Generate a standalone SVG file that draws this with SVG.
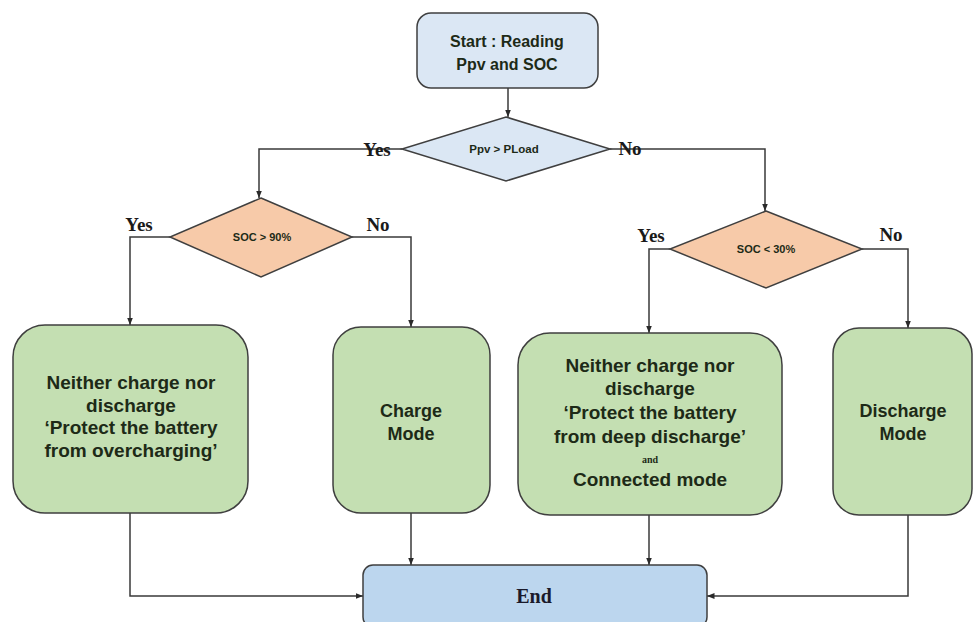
<svg xmlns="http://www.w3.org/2000/svg" width="973" height="622" viewBox="0 0 973 622">
<style>
.box{stroke:#3f3f3f;stroke-width:1.5}
.blue{fill:#dbe7f4}
.endc{fill:#bcd6ee}
.peach{fill:#f7caa9}
.green{fill:#c4dfb2}
.t{font-family:"Liberation Sans",Arial,sans-serif;font-weight:bold;fill:#1d2a17;text-anchor:middle}
.lb{font-family:"Liberation Serif",serif;font-weight:bold;font-size:19px;fill:#1a1a1a;text-anchor:middle}
.c{fill:none;stroke:#3a3a3a;stroke-width:1.5}
</style>
<defs>
<marker id="ah" viewBox="0 0 10 10" refX="10" refY="5" markerWidth="5" markerHeight="5" orient="auto">
<path d="M0,1 L10,5 L0,9 z" fill="#2a2a2a"/>
</marker>
</defs>
<rect width="973" height="622" fill="#ffffff"/>
<g id="connectors">
<path class="c" d="M508,88 V117" marker-end="url(#ah)"/>
<path class="c" d="M402,149 H259 V198" marker-end="url(#ah)"/>
<path class="c" d="M610,149 H765 V211" marker-end="url(#ah)"/>
<path class="c" d="M170,237 H130 V325" marker-end="url(#ah)"/>
<path class="c" d="M352,237 H411 V327" marker-end="url(#ah)"/>
<path class="c" d="M670,249 H649 V333" marker-end="url(#ah)"/>
<path class="c" d="M862,249 H908 V328" marker-end="url(#ah)"/>
<path class="c" d="M130,513 V596 H363" marker-end="url(#ah)"/>
<path class="c" d="M411,513 V565" marker-end="url(#ah)"/>
<path class="c" d="M649,515 V565" marker-end="url(#ah)"/>
<path class="c" d="M908,515 V596 H707" marker-end="url(#ah)"/>
<text class="lb" x="377" y="156">Yes</text>
<text class="lb" x="630" y="155">No</text>
<text class="lb" x="139" y="231">Yes</text>
<text class="lb" x="378" y="231">No</text>
<text class="lb" x="651" y="242">Yes</text>
<text class="lb" x="891" y="241">No</text>
</g>
<g id="start">
<rect class="box blue" x="417" y="13" width="181" height="75" rx="14"/>
<text class="t" x="507" y="47" font-size="16">Start : Reading</text>
<text class="t" x="507" y="70" font-size="16">Ppv and SOC</text>
</g>
<g id="d1">
<polygon class="box blue" points="506,117 610,149 506,181 402,149"/>
<text class="t" x="504" y="153" font-size="11.5">Ppv &gt; PLoad</text>
</g>
<g id="d2">
<polygon class="box peach" points="261,198 352,237 261,277 170,237"/>
<text class="t" x="262" y="241" font-size="11">SOC &gt; 90%</text>
</g>
<g id="d3">
<polygon class="box peach" points="766,211 862,249 766,288 670,249"/>
<text class="t" x="766" y="253" font-size="11">SOC &lt; 30%</text>
</g>
<g id="b1">
<rect class="box green" x="13" y="325" width="235" height="188" rx="32"/>
<text class="t" x="131" y="389" font-size="19">Neither charge nor</text>
<text class="t" x="131" y="411.5" font-size="19">discharge</text>
<text class="t" x="131" y="434" font-size="19">‘Protect the battery</text>
<text class="t" x="131" y="456.5" font-size="19">from overcharging’</text>
</g>
<g id="b2">
<rect class="box green" x="333" y="327" width="157" height="186" rx="28"/>
<text class="t" x="411" y="417" font-size="18">Charge</text>
<text class="t" x="411" y="440" font-size="18">Mode</text>
</g>
<g id="b3">
<rect class="box green" x="518" y="333" width="264" height="182" rx="32"/>
<text class="t" x="650" y="372" font-size="19">Neither charge nor</text>
<text class="t" x="650" y="394.5" font-size="19">discharge</text>
<text class="t" x="650" y="419" font-size="19">‘Protect the battery</text>
<text class="t" x="650" y="443" font-size="19">from deep discharge’</text>
<text x="650" y="463" font-family="Liberation Serif,serif" font-weight="bold" font-size="10" fill="#1d2a17" text-anchor="middle">and</text>
<text class="t" x="650" y="486" font-size="19">Connected mode</text>
</g>
<g id="b4">
<rect class="box green" x="833" y="328" width="139" height="187" rx="26"/>
<text class="t" x="903" y="417" font-size="18">Discharge</text>
<text class="t" x="903" y="440" font-size="18">Mode</text>
</g>
<g id="end">
<rect class="box endc" x="363" y="565" width="344" height="62" rx="10"/>
<text x="534" y="603" font-family="Liberation Serif,serif" font-weight="bold" font-size="20" fill="#1a1a2a" text-anchor="middle">End</text>
</g>
</svg>
